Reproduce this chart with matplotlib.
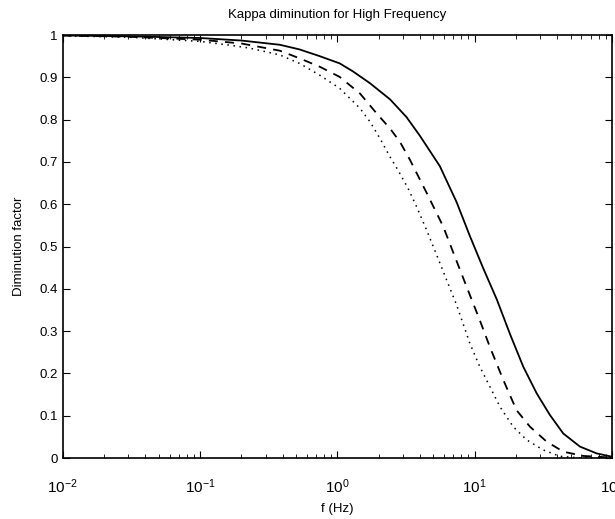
import matplotlib
matplotlib.use("Agg")
import matplotlib.pyplot as plt
from matplotlib.ticker import LogLocator, FixedLocator

plt.rcParams['font.family'] = ['Liberation Sans', 'DejaVu Sans']
plt.rcParams['mathtext.default'] = 'regular'

# values
f_solid = [0.01, 0.03, 0.1, 0.2, 0.381, 0.53, 0.745, 1.04, 1.30, 1.73, 2.42, 3.19, 3.99, 5.58, 7.39, 9.23,
           11.5, 14.5, 18.1, 22.6, 28.3, 35.3, 44.2, 58.5, 77.3, 100]
y_solid = [0.999, 0.997, 0.993, 0.987, 0.977, 0.966, 0.950, 0.933, 0.914, 0.886, 0.848, 0.806, 0.762, 0.690, 0.605, 0.525,
           0.450, 0.375, 0.293, 0.216, 0.153, 0.102, 0.058, 0.027, 0.011, 0.003]

f_dash = [0.01, 0.03, 0.1, 0.2, 0.381, 0.53, 0.745, 1.04, 1.46, 1.93, 2.42, 2.85, 3.38, 4.47, 5.91, 7.18, 8.74,
          10.9, 12.9, 16.2, 20.2, 25.3, 33.4, 44.2, 61.5, 100]
y_dash = [0.999, 0.996, 0.989, 0.980, 0.963, 0.945, 0.925, 0.901, 0.862, 0.815, 0.779, 0.748, 0.705, 0.627, 0.547, 0.476, 0.405,
          0.326, 0.263, 0.184, 0.113, 0.074, 0.039, 0.015, 0.005, 0.001]

f_dot = [0.01, 0.03, 0.1, 0.165, 0.23, 0.381, 0.53, 0.745, 1.04, 1.46, 1.73, 2.04, 2.42, 2.76, 3.27, 3.78, 4.47, 5.29,
         6.25, 7.39, 9.23, 10.9, 12.9, 15.3, 19.1, 23.9, 31.6, 41.8, 60, 100]
y_dot = [0.998, 0.995, 0.985, 0.976, 0.969, 0.953, 0.933, 0.905, 0.874, 0.827, 0.795, 0.756, 0.712, 0.681, 0.638, 0.594, 0.539, 0.480,
         0.421, 0.362, 0.271, 0.216, 0.169, 0.121, 0.074, 0.043, 0.019, 0.004, 0.0, 0.0]

yticks = [0, 0.1, 0.2, 0.3, 0.4, 0.5, 0.6, 0.7, 0.8, 0.9, 1]
ytick_labels = ['0', '0.1', '0.2', '0.3', '0.4', '0.5', '0.6', '0.7', '0.8', '0.9', '1']

fig = plt.figure(figsize=(6.15, 5.19), dpi=100)
ax = fig.add_axes([0.102, 0.1175, 0.893, 0.815])

ax.semilogx(f_solid, y_solid, color='black', linewidth=1.3, linestyle='-')
ax.semilogx(f_dash, y_dash, color='black', linewidth=1.3, linestyle=(0, (5, 4)))
ax.semilogx(f_dot, y_dot, color='black', linewidth=1.1, linestyle=(0, (1, 3)))

ax.set_xlim(0.01, 100)
ax.set_ylim(0, 1)
ax.yaxis.set_major_locator(FixedLocator(yticks))
ax.set_yticklabels(ytick_labels)
ax.xaxis.set_major_locator(LogLocator(base=10, numticks=10))
ax.xaxis.set_minor_locator(LogLocator(base=10, subs=range(2, 10), numticks=20))

ax.tick_params(which='both', direction='in', top=True, right=True, labelsize=9.5)
ax.tick_params(axis='x', which='major', labelsize=11, pad=14)
ax.tick_params(which='major', length=5)
ax.tick_params(which='minor', length=3)
for s in ax.spines.values():
    s.set_linewidth(1.2)

ax.set_title('Kappa diminution for High Frequency', fontsize=9.5, pad=12)
ax.set_xlabel('f (Hz)', fontsize=9.5, labelpad=5)
ax.set_ylabel('Diminution factor', fontsize=9.5, labelpad=10)

fig.savefig('out.png', dpi=100)
